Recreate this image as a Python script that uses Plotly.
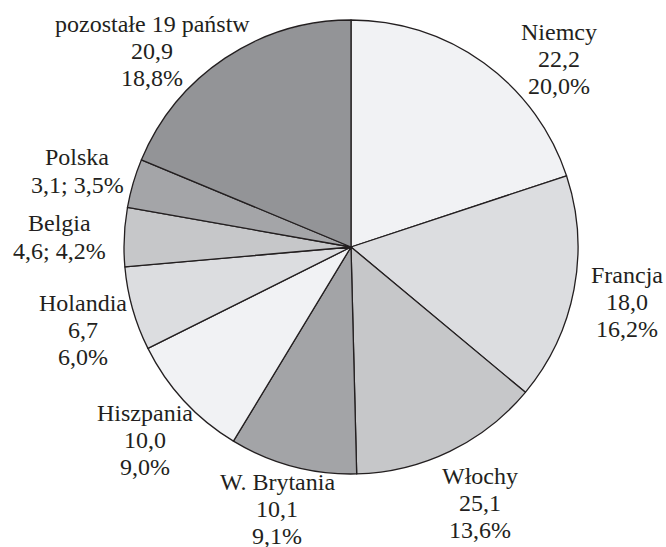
import plotly.graph_objects as go

# ---- data ----
countries = ["Niemcy", "Francja", "Włochy", "W. Brytania", "Hiszpania",
             "Holandia", "Belgia", "Polska", "pozostałe 19 państw"]
values = [22.2, 18.0, 25.1, 10.1, 10.0, 6.7, 4.6, 3.1, 20.9]
shares = [20.0, 16.2, 13.6, 9.1, 9.0, 6.0, 4.2, 3.5, 18.8]
one_line = [False, False, False, False, False, False, True, True, False]

# ---- styles ----
colors = ["#f1f2f4", "#dcdde0", "#c6c7c9", "#a3a4a7", "#f1f2f4",
          "#dcdde0", "#c6c7c9", "#a4a5a8", "#939497"]
W, H = 666, 547
# label block centres in pixels (x, y from top)
label_pos = [(559, 59), (627, 302), (480, 503), (277, 509), (145, 440),
             (83, 330), (59, 237), (77, 171), (152, 51)]
LINE_GAP = 27
FONT = "Liberation Serif"

def fmt(v):
    return f"{v:.1f}".replace(".", ",")

fig = go.Figure(go.Pie(
    labels=countries,
    values=shares,
    sort=False,
    direction="clockwise",
    rotation=0,
    textinfo="none",
    hoverinfo="skip",
    marker=dict(colors=colors, line=dict(color="#231f20", width=1.3)),
    domain=dict(x=[124 / W, 578 / W], y=[1 - 474 / H, 1 - 20 / H]),
    showlegend=False,
))

for name, v, s, single, (px, py) in zip(countries, values, shares, one_line, label_pos):
    if single:
        lines = [name, f"{fmt(v)}; {fmt(s)}%"]
    else:
        lines = [name, fmt(v), f"{fmt(s)}%"]
    n = len(lines)
    for i, line in enumerate(lines):
        ly = py + (i - (n - 1) / 2) * LINE_GAP
        fig.add_annotation(x=px / W, y=1 - ly / H, xref="paper", yref="paper",
                           text=line, showarrow=False, xanchor="center", yanchor="middle",
                           align="center",
                           font=dict(family=FONT, size=24, color="#231f20"))

fig.update_layout(width=W, height=H, margin=dict(l=0, r=0, t=0, b=0),
                  paper_bgcolor="white", plot_bgcolor="white",
                  font=dict(family=FONT, size=24))
fig.write_html("out.html", config={"displayModeBar": False},
               post_script="document.body.style.margin='0';")
